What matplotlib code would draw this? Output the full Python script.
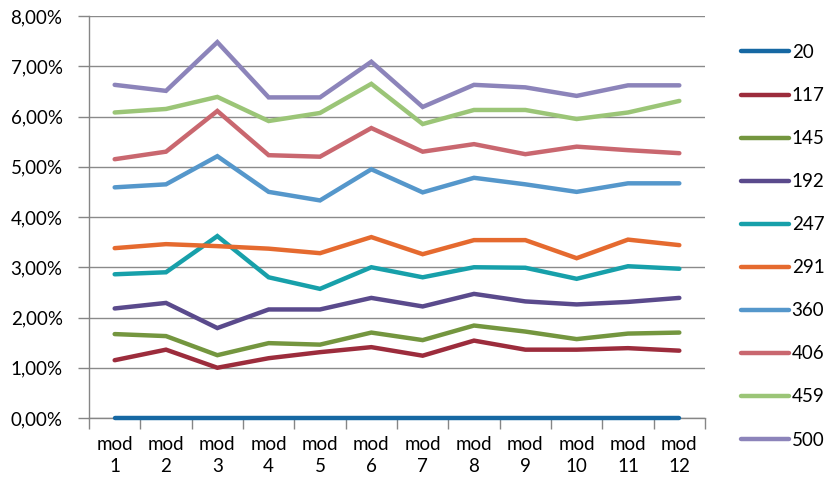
import matplotlib
matplotlib.use("Agg")
import matplotlib.pyplot as plt
from matplotlib.ticker import FuncFormatter, FixedLocator

plt.rcParams['font.family'] = ['Lato', 'DejaVu Sans']

categories = [f"mod\n{i}" for i in range(1, 13)]

series_names = ["20", "117", "145", "192", "247", "291", "360", "406", "459", "500"]

s20  = [0.00] * 12
s117 = [1.15, 1.36, 1.00, 1.19, 1.31, 1.41, 1.24, 1.54, 1.36, 1.36, 1.39, 1.34]
s145 = [1.67, 1.63, 1.25, 1.49, 1.46, 1.70, 1.55, 1.84, 1.72, 1.57, 1.68, 1.70]
s192 = [2.18, 2.29, 1.79, 2.16, 2.16, 2.39, 2.22, 2.47, 2.32, 2.26, 2.31, 2.39]
s247 = [2.86, 2.90, 3.62, 2.80, 2.57, 3.00, 2.80, 3.00, 2.99, 2.77, 3.02, 2.97]
s291 = [3.38, 3.46, 3.42, 3.37, 3.28, 3.60, 3.26, 3.54, 3.54, 3.18, 3.55, 3.44]
s360 = [4.59, 4.65, 5.21, 4.50, 4.33, 4.95, 4.49, 4.78, 4.65, 4.50, 4.67, 4.67]
s406 = [5.15, 5.30, 6.11, 5.23, 5.20, 5.77, 5.30, 5.45, 5.25, 5.40, 5.33, 5.27]
s459 = [6.08, 6.15, 6.39, 5.91, 6.07, 6.65, 5.85, 6.13, 6.13, 5.95, 6.08, 6.31]
s500 = [6.63, 6.51, 7.48, 6.38, 6.38, 7.09, 6.19, 6.63, 6.58, 6.41, 6.62, 6.62]

series_values = [s20, s117, s145, s192, s247, s291, s360, s406, s459, s500]
colors = ["#1668A3", "#9C2C3C", "#74963F", "#5A4A8C", "#17A0AA",
          "#E56A2F", "#5597CB", "#C9676F", "#9BC577", "#8C84BA"]

FS = 13.5

fig = plt.figure(figsize=(8.32, 4.91), dpi=100)
ax = fig.add_axes([89/832, 1 - 418/491, (705 - 89)/832, (418 - 16)/491])

x = list(range(len(categories)))
lines = []
for name, vals, c in zip(series_names, series_values, colors):
    ln, = ax.plot(x, vals, color=c, lw=3.2, solid_capstyle='round',
                  solid_joinstyle='miter', label=name, zorder=3, clip_on=False)
    lines.append(ln)

ax.set_xlim(-0.5, len(categories) - 0.5)
ax.set_ylim(0, 8)
ax.set_yticks(range(0, 9))
ax.yaxis.set_major_formatter(FuncFormatter(lambda v, p: f"{v:.2f}".replace('.', ',') + "%"))
ax.grid(axis='y', color='#8A8A8A', lw=1.0, zorder=1)

# category labels centred, tick marks between categories
ax.set_xticks(x)
ax.set_xticklabels(categories, fontsize=FS, linespacing=1.35)
ax.tick_params(axis='x', which='major', length=0, pad=13)
ax.xaxis.set_minor_locator(FixedLocator([i - 0.5 for i in range(len(categories) + 1)]))
ax.tick_params(axis='x', which='minor', length=8, color='#868686', width=1)
ax.tick_params(axis='y', length=8, color='#868686', width=1, labelsize=FS, pad=11)

for side in ['top', 'right']:
    ax.spines[side].set_visible(False)
for side in ['left', 'bottom']:
    ax.spines[side].set_color('#868686')
    ax.spines[side].set_linewidth(1)

leg = fig.legend(handles=lines, loc='upper left', bbox_to_anchor=(741/832, 1 - 44/491),
                 frameon=False, fontsize=FS, handlelength=2.55, handletextpad=0.15,
                 labelspacing=1.39, borderpad=0, borderaxespad=0)

fig.savefig("out.png", dpi=100)
